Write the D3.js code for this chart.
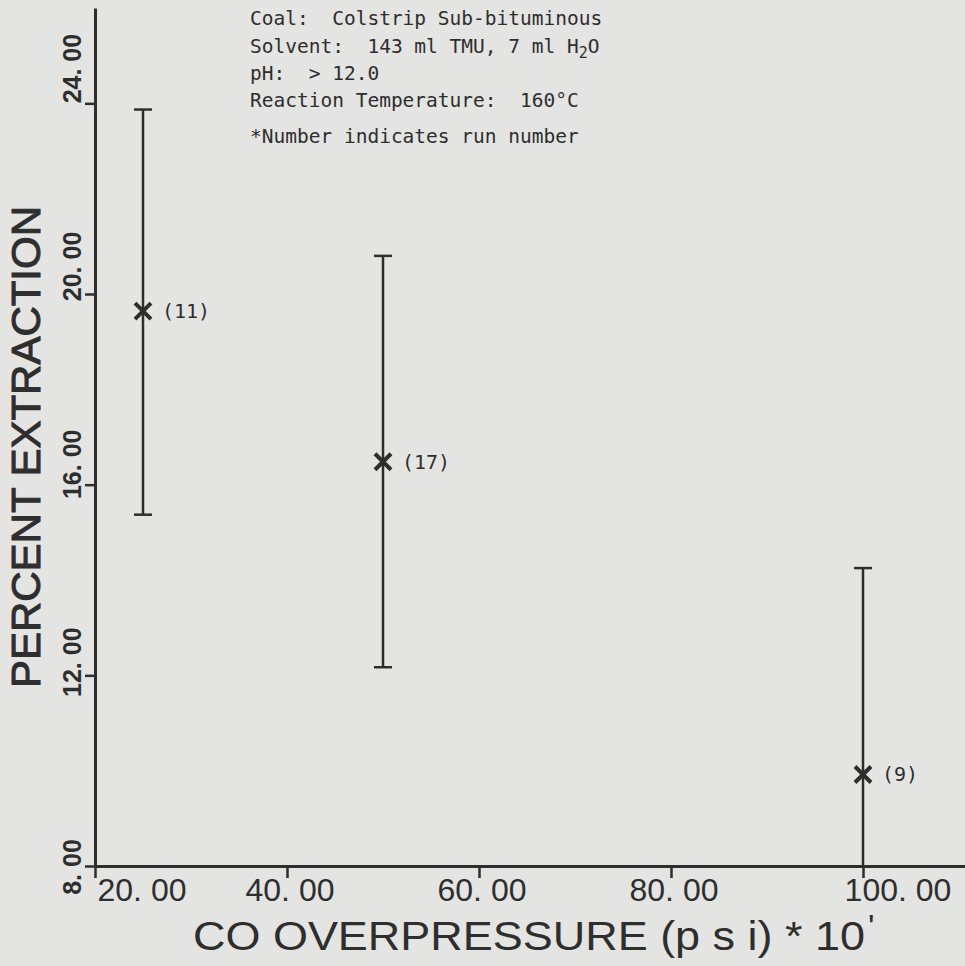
<!DOCTYPE html>
<html>
<head>
<meta charset="utf-8">
<script src="https://d3js.org/d3.v7.min.js"></script>
<style>
  body { margin: 0; background: #e4e4e2; }
  svg { display: block; }
  .note { white-space: pre; }
</style>
</head>
<body>
<script>
  // run data
  var runs = ["11", "17", "9"];
  var pressure = [25, 50, 100];
  var extraction = [19.64, 16.48, 9.92];
  var errLow = [15.37, 12.17, 5.59];
  var errHigh = [23.87, 20.80, 14.25];

  var xTicks = [20, 40, 60, 80, 100];
  var yTicks = [8, 12, 16, 20, 24];

  var notes = [
    "Coal:  Colstrip Sub-bituminous",
    "Solvent:  143 ml TMU, 7 ml H|2|O",
    "pH:  > 12.0",
    "Reaction Temperature:  160\u00B0C",
    "*Number indicates run number"
  ];

  var width = 965, height = 966;
  var ink = "#2e2e2e";

  var svg = d3.select("body").append("svg")
      .attr("width", width)
      .attr("height", height);

  svg.append("rect").attr("width", width).attr("height", height).attr("fill", "#e4e4e2");

  var x = d3.scaleLinear().domain([20, 110.625]).range([95, 965]);
  var y = d3.scaleLinear().domain([8, 26]).range([866, 8]);

  // axes
  var xAxis = d3.axisBottom(x).tickValues(xTicks).tickSize(12).tickSizeOuter(0).tickFormat("");
  var yAxis = d3.axisLeft(y).tickValues(yTicks).tickSize(10).tickSizeOuter(0).tickFormat("");

  var gx = svg.append("g").attr("transform", "translate(0," + y(8) + ")").call(xAxis);
  var gy = svg.append("g").attr("transform", "translate(" + x(20) + ",0)").call(yAxis);
  [gx, gy].forEach(function (g) {
    g.select(".domain").attr("stroke", ink).attr("stroke-width", 3);
    g.selectAll(".tick line").attr("stroke", ink).attr("stroke-width", 2.5);
  });

  // x tick labels
  svg.selectAll("text.xlab")
    .data(xTicks)
    .enter().append("text")
    .attr("class", "xlab")
    .attr("x", function (d, i) { return x(d) + (i === 0 ? 47 : (i === xTicks.length - 1 ? 35 : 3)); })
    .attr("y", 901)
    .attr("text-anchor", "middle")
    .attr("font-family", "Liberation Sans, Arial, sans-serif")
    .attr("font-size", 32)
    .attr("fill", ink)
    .text(function (d) { return d3.format(".2f")(d).replace(".", ". "); });

  // y tick labels (rotated, drifting slightly as on the plotter)
  svg.selectAll("text.ylab")
    .data(yTicks)
    .enter().append("text")
    .attr("class", "ylab")
    .attr("transform", function (d) {
      return "translate(81," + (y(d) + (24 - d) * 1.8) + ") rotate(-90)";
    })
    .attr("text-anchor", "start")
    .attr("font-family", "Liberation Sans, Arial, sans-serif")
    .attr("font-weight", "bold")
    .attr("font-size", 25)
    .attr("fill", ink)
    .text(function (d) { return d3.format(".2f")(d).replace(".", ". "); });

  // axis titles
  svg.append("text")
    .attr("x", 193).attr("y", 950)
    .attr("font-family", "Liberation Sans, Arial, sans-serif")
    .attr("font-size", 40)
    .attr("fill", ink)
    .attr("textLength", 672)
    .attr("lengthAdjust", "spacingAndGlyphs")
    .text("CO OVERPRESSURE (p s i) * 10");
  svg.append("text")
    .attr("x", 868).attr("y", 938)
    .attr("font-family", "Liberation Sans, Arial, sans-serif")
    .attr("font-size", 34)
    .attr("fill", ink)
    .text("'");

  svg.append("text")
    .attr("transform", "translate(40,688) rotate(-90)")
    .attr("font-family", "Liberation Sans, Arial, sans-serif")
    .attr("font-size", 40)
    .attr("fill", ink)
    .attr("stroke", ink)
    .attr("stroke-width", 1)
    .attr("textLength", 482)
    .attr("lengthAdjust", "spacingAndGlyphs")
    .text("PERCENT EXTRACTION");

  // notes block
  var noteY = [25, 53, 80, 107, 143];
  var nt = svg.selectAll("text.note")
    .data(notes)
    .enter().append("text")
    .attr("class", "note")
    .attr("x", 250)
    .attr("y", function (d, i) { return noteY[i]; })
    .attr("font-family", "DejaVu Sans Mono, monospace")
    .attr("font-size", 19.5)
    .attr("fill", ink);
  nt.each(function (d) {
    var t = d3.select(this);
    d.split("|").forEach(function (part, k) {
      var s = t.append("tspan").text(part);
      if (k === 1) s.attr("font-size", 15).attr("dy", 5);
      if (k === 2) s.attr("dy", -5);
    });
  });

  // error bars
  var bars = svg.selectAll("g.bar")
    .data(pressure.map(function (p, i) {
      return { p: p, v: extraction[i], lo: Math.max(errLow[i], 8), hi: errHigh[i], run: runs[i], capLo: errLow[i] >= 8 };
    }))
    .enter().append("g").attr("class", "bar");

  bars.append("line")
    .attr("x1", function (d) { return x(d.p); })
    .attr("x2", function (d) { return x(d.p); })
    .attr("y1", function (d) { return y(d.hi); })
    .attr("y2", function (d) { return y(d.lo); })
    .attr("stroke", ink).attr("stroke-width", 2.5);
  bars.append("line")
    .attr("x1", function (d) { return x(d.p) - 9; })
    .attr("x2", function (d) { return x(d.p) + 9; })
    .attr("y1", function (d) { return y(d.hi); })
    .attr("y2", function (d) { return y(d.hi); })
    .attr("stroke", ink).attr("stroke-width", 2.5);
  bars.filter(function (d) { return d.capLo; }).append("line")
    .attr("x1", function (d) { return x(d.p) - 9; })
    .attr("x2", function (d) { return x(d.p) + 9; })
    .attr("y1", function (d) { return y(d.lo); })
    .attr("y2", function (d) { return y(d.lo); })
    .attr("stroke", ink).attr("stroke-width", 2.5);

  // x markers
  bars.append("path")
    .attr("transform", function (d) { return "translate(" + x(d.p) + "," + y(d.v) + ")"; })
    .attr("d", "M-8,-8L8,8M-8,8L8,-8")
    .attr("stroke", ink).attr("stroke-width", 4);

  bars.append("text")
    .attr("x", function (d) { return x(d.p) + 19; })
    .attr("y", function (d) { return y(d.v) + 7; })
    .attr("font-family", "DejaVu Sans Mono, monospace")
    .attr("font-size", 20)
    .attr("fill", ink)
    .text(function (d) { return "(" + d.run + ")"; });
</script>
</body>
</html>
